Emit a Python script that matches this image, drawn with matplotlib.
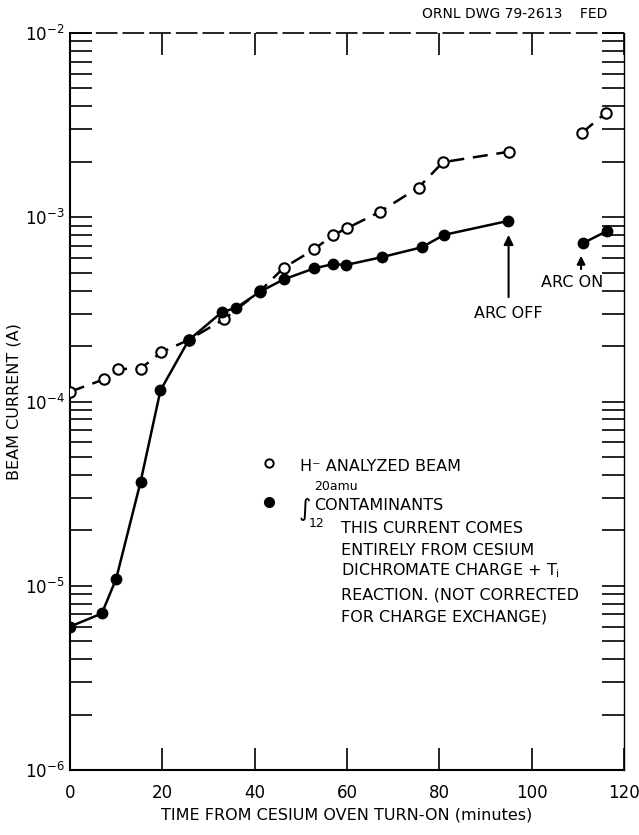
import matplotlib
matplotlib.use("Agg")
import matplotlib.pyplot as plt
from matplotlib.ticker import LogLocator, NullFormatter, FixedLocator

plt.rcParams["font.family"] = ["DejaVu Sans"]

# H- analyzed beam (open circles), oven on until arc off
h_t = [0, 7.4, 10.5, 15.3, 19.8, 25.7, 33.3, 41.2, 46.3, 52.9, 56.9, 60.0, 67.1, 75.5, 80.8, 95.2]
h_i = [1.13e-4, 1.32e-4, 1.50e-4, 1.51e-4, 1.85e-4, 2.16e-4, 2.79e-4, 3.98e-4, 5.32e-4,
       6.70e-4, 7.98e-4, 8.71e-4, 1.07e-3, 1.45e-3, 1.99e-3, 2.27e-3]
# after arc on
h_t2 = [110.8, 116.1]
h_i2 = [2.86e-3, 3.69e-3]

# 12-20 amu contaminants (filled circles)
c_t = [0, 6.9, 10.0, 15.3, 19.6, 25.7, 33.0, 35.9, 41.2, 46.3, 52.9, 56.9, 59.8, 67.5, 76.2, 81.0, 94.9]
c_i = [6.0e-6, 7.08e-6, 1.09e-5, 3.67e-5, 1.15e-4, 2.15e-4, 3.07e-4, 3.21e-4, 3.95e-4,
       4.60e-4, 5.28e-4, 5.56e-4, 5.51e-4, 6.07e-4, 6.87e-4, 8.02e-4, 9.55e-4]
c_t2 = [111.1, 116.3]
c_i2 = [7.23e-4, 8.41e-4]

x_ticks = [0, 20, 40, 60, 80, 100, 120]
y_ticks = [1e-6, 1e-5, 1e-4, 1e-3, 1e-2]
y_labels = ["$10^{-6}$", "$10^{-5}$", "$10^{-4}$", "$10^{-3}$", "$10^{-2}$"]

fig = plt.figure(figsize=(6.39, 8.35), dpi=100)
ax = fig.add_axes([0.1095, 0.0778, 0.867, 0.8827])

dash = (0, (6, 3.5))
ax.plot(h_t, h_i, color="black", lw=1.8, ls=dash, marker="o", ms=7.5,
        mfc="white", mec="black", mew=1.5, zorder=3)
ax.plot(h_t2, h_i2, color="black", lw=1.8, ls=dash, marker="o", ms=7.5,
        mfc="white", mec="black", mew=1.5, zorder=3)
ax.plot(c_t, c_i, color="black", lw=1.8, marker="o", ms=7.5, mfc="black", mec="black", zorder=4)
ax.plot(c_t2, c_i2, color="black", lw=1.8, marker="o", ms=7.5, mfc="black", mec="black", zorder=4)

ax.set_yscale("log")
ax.set_xlim(0, 120)
ax.set_ylim(1e-6, 1e-2)

ax.xaxis.set_major_locator(FixedLocator(x_ticks))
ax.set_xticklabels([str(t) for t in x_ticks], fontsize=12)
ax.yaxis.set_major_locator(FixedLocator(y_ticks))
ax.set_yticklabels(y_labels, fontsize=12)
ax.yaxis.set_minor_locator(LogLocator(base=10, subs=range(2, 10)))
ax.yaxis.set_minor_formatter(NullFormatter())

ax.tick_params(axis="x", which="major", direction="in", length=16, width=1.2,
               top=True, bottom=True, pad=10)
ax.tick_params(axis="y", which="both", direction="in", length=16, width=1.2,
               left=True, right=True, pad=4)

for side in ["left", "bottom"]:
    ax.spines[side].set_linewidth(1.5)
ax.spines["top"].set_linewidth(1.2)
ax.spines["top"].set_linestyle((0, (12, 4)))
ax.spines["right"].set_linewidth(1.0)

ax.set_xlabel("TIME FROM CESIUM OVEN TURN-ON (minutes)", fontsize=11.5, labelpad=4)
ax.set_ylabel("BEAM CURRENT (A)", fontsize=11.5, labelpad=2)

# arc off / arc on annotations
ax.annotate("", xy=(95.0, 8.3e-4), xytext=(95.0, 3.56e-4),
            arrowprops=dict(arrowstyle="-|>", color="black", lw=1.5, mutation_scale=14))
ax.text(95.0, 3.0e-4, "ARC OFF", fontsize=11.5, ha="center", va="center")
ax.annotate("", xy=(110.7, 6.4e-4), xytext=(110.7, 5.05e-4),
            arrowprops=dict(arrowstyle="-|>", color="black", lw=1.5, mutation_scale=12))
ax.text(108.8, 4.4e-4, "ARC ON", fontsize=11.5, ha="center", va="center")

# legend drawn as text in the plot
ax.plot([43.1], [10 ** -4.334], marker="o", ms=6, mfc="white", mec="black", mew=1.4, ls="none")
ax.plot([43.1], [10 ** -4.545], marker="o", ms=7, mfc="black", mec="black", ls="none")
ax.text(49.8, 10 ** -4.355, "H⁻ ANALYZED BEAM", fontsize=11.5, ha="left", va="center")
ax.text(49.6, 10 ** -4.585, "∫", fontsize=17, ha="left", va="center")
ax.text(52.8, 10 ** -4.459, "20amu", fontsize=9, ha="left", va="center")
ax.text(52.8, 10 ** -4.562, "CONTAMINANTS", fontsize=11.5, ha="left", va="center")
ax.text(51.6, 10 ** -4.662, "12", fontsize=9, ha="left", va="center")
note = ["THIS CURRENT COMES",
        "ENTIRELY FROM CESIUM",
        "DICHROMATE CHARGE + T$_{\\mathrm{i}}$",
        "REACTION. (NOT CORRECTED",
        "FOR CHARGE EXCHANGE)"]
note_y = [-4.687, -4.806, -4.920, -5.050, -5.170]
for line, ly in zip(note, note_y):
    ax.text(58.7, 10 ** ly, line, fontsize=11.5, ha="left", va="center")

fig.text(0.66, 0.983, "ORNL DWG 79-2613    FED", fontsize=10, ha="left", va="center")

fig.savefig("out.png", dpi=100)
